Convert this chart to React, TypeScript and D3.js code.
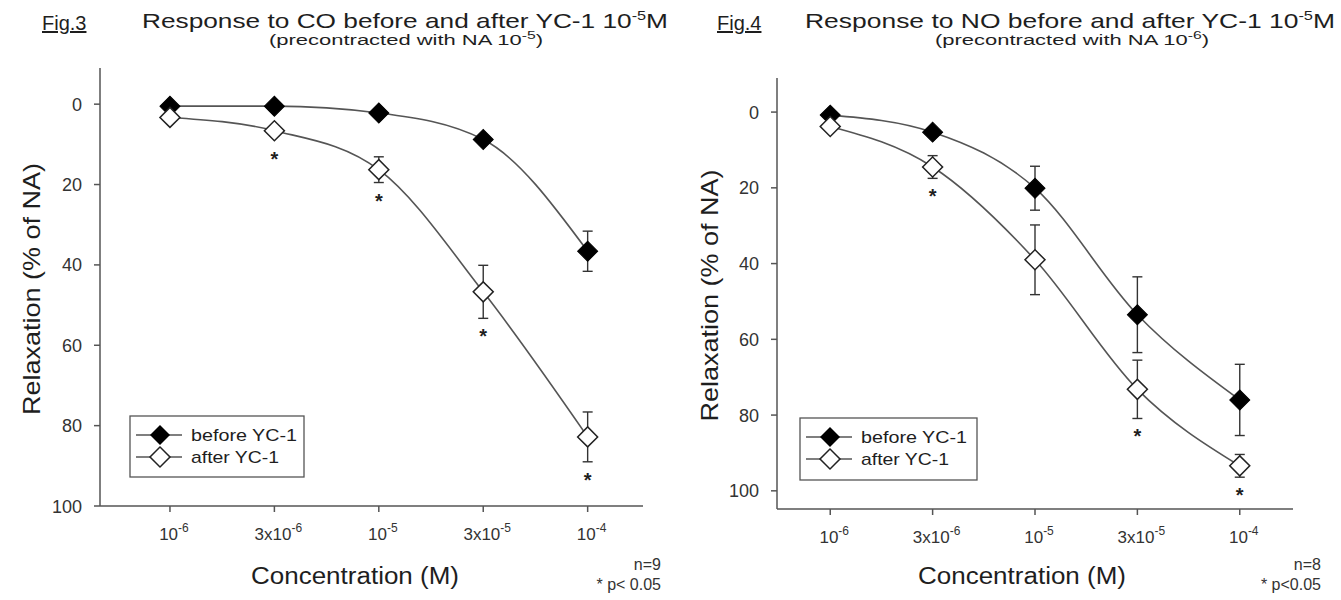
import React from 'react';
import * as d3 from 'd3';

// concentration categories (shown evenly spaced)
const concBase = ['10', '3x10', '10', '3x10', '10'];
const concExp = ['-6', '-6', '-5', '-5', '-4'];
const yTicks = [0, 20, 40, 60, 80, 100];

// Fig.3 - response to CO
const coBefore = [0.5, 0.5, 2.2, 8.8, 36.6];
const coBeforeErr = [0, 0, 0, 0, 5];
const coAfter = [3.3, 6.6, 16.3, 46.7, 82.8];
const coAfterErr = [0, 1.2, 3.2, 6.6, 6.2];
const coSig = [false, true, true, true, true];

// Fig.4 - response to NO
const noBefore = [0.8, 5.3, 20.1, 53.5, 76];
const noBeforeErr = [0, 0, 5.8, 10, 9.4];
const noAfter = [3.8, 14.5, 39, 73.2, 93.4];
const noAfterErr = [0, 3, 9.2, 7.7, 3];
const noSig = [false, true, false, true, true];

const FONT = '"Liberation Sans", Arial, sans-serif';
const INK = '#1e1e1e';
const LINE = '#555';

const diamond = d3.symbol(d3.symbolSquare, 200)();

type PanelProps = {
  fig: string;
  agent: string;
  naExp: string;
  xRange: [number, number];
  xDomain: [number, number];
  yRange: [number, number];
  yDomain: [number, number];
  before: number[];
  beforeErr: number[];
  after: number[];
  afterErr: number[];
  sig: boolean[];
  figX: number;
  titleX: number;
  titleLen: number;
  subX: number;
  legend: { x: number; y: number; w: number; h: number };
  n: string;
  pText: string;
  noteX: number;
  xTitleX: number;
  yTitleX: number;
};

function Panel(p: PanelProps) {
  const x = d3.scaleLinear().domain(p.xDomain).range(p.xRange);
  const y = d3.scaleLinear().domain(p.yDomain).range(p.yRange);
  const idx = d3.range(concBase.length);
  const line = d3
    .line<number>()
    .x((i) => x(i))
    .curve(d3.curveMonotoneX);
  const bottom = p.yRange[1];
  const left = p.xRange[0];

  const errBars = (vals: number[], errs: number[], key: string) =>
    idx
      .filter((i) => errs[i] > 0)
      .map((i) => {
        const cx = x(i);
        const t = y(vals[i] - errs[i]);
        const b = y(vals[i] + errs[i]);
        return (
          <g key={key + i} stroke="#333" strokeWidth={1.4}>
            <line x1={cx} x2={cx} y1={t} y2={b} />
            <line x1={cx - 5} x2={cx + 5} y1={t} y2={t} />
            <line x1={cx - 5} x2={cx + 5} y1={b} y2={b} />
          </g>
        );
      });

  const lg = p.legend;

  return (
    <g fontFamily={FONT} fill={INK}>
      {/* titles */}
      <text x={p.figX} y={30} fontSize={20} textDecoration="underline">
        {p.fig}
      </text>
      <text x={p.titleX} y={28} fontSize={21} textLength={p.titleLen} lengthAdjust="spacingAndGlyphs">
        {`Response to ${p.agent} before and after YC-1 10`}
        <tspan dy={-8} fontSize={13}>-5</tspan>
        <tspan dy={8}>M</tspan>
      </text>
      <text x={p.subX} y={45} fontSize={14} textLength={274} lengthAdjust="spacingAndGlyphs">
        (precontracted with NA 10
        <tspan dy={-6} fontSize={10}>{p.naExp}</tspan>
        <tspan dy={6}>)</tspan>
      </text>

      {/* axes */}
      <g stroke={LINE} strokeWidth={1.5} fill="none">
        <line x1={left} x2={left} y1={p.yRange[0]} y2={bottom} />
        <line x1={left} x2={p.xRange[1]} y1={bottom} y2={bottom} />
        {yTicks.map((t) => (
          <line key={'yt' + t} x1={left - 6} x2={left} y1={y(t)} y2={y(t)} />
        ))}
        {idx.map((i) => (
          <line key={'xt' + i} x1={x(i)} x2={x(i)} y1={bottom} y2={bottom + 6} />
        ))}
      </g>
      {yTicks.map((t) => (
        <text key={'yl' + t} x={left - 18} y={y(t) + 6.5} fontSize={18} textAnchor="end" fill="#333">
          {t}
        </text>
      ))}
      {idx.map((i) => (
        <text key={'xl' + i} x={x(i) + 4} y={bottom + 34} fontSize={17} textAnchor="middle" fill="#333">
          {concBase[i]}
          <tspan dy={-8} fontSize={12}>{concExp[i]}</tspan>
        </text>
      ))}
      <text x={p.xTitleX} y={584} fontSize={23} textAnchor="middle" textLength={208} lengthAdjust="spacingAndGlyphs">
        Concentration (M)
      </text>
      <text
        transform={`translate(${p.yTitleX},${(p.yRange[0] + bottom) / 2 + 2}) rotate(-90)`}
        fontSize={24}
        textAnchor="middle"
        textLength={252}
        lengthAdjust="spacingAndGlyphs"
      >
        Relaxation (% of NA)
      </text>
      <text x={p.noteX} y={570} fontSize={16} textAnchor="end" fill="#333">
        {p.n}
      </text>
      <text x={p.noteX} y={590} fontSize={16} textAnchor="end" fill="#333">
        {p.pText}
      </text>

      {/* curves */}
      <path d={line.y((i) => y(p.before[i]))(idx) ?? ''} fill="none" stroke={LINE} strokeWidth={1.6} />
      <path d={line.y((i) => y(p.after[i]))(idx) ?? ''} fill="none" stroke={LINE} strokeWidth={1.6} />

      {errBars(p.before, p.beforeErr, 'be')}
      {errBars(p.after, p.afterErr, 'ae')}

      {idx.map((i) => (
        <path key={'bm' + i} d={diamond} transform={`translate(${x(i)},${y(p.before[i])}) rotate(45)`} fill="#000" stroke="#000" strokeWidth={1} />
      ))}
      {idx.map((i) => (
        <path key={'am' + i} d={diamond} transform={`translate(${x(i)},${y(p.after[i])}) rotate(45)`} fill="#fff" stroke="#222" strokeWidth={1.5} />
      ))}

      {/* significance marks */}
      {idx
        .filter((i) => p.sig[i])
        .map((i) => {
          const low = Math.max(y(p.after[i]) + 10, y(p.after[i] + p.afterErr[i]));
          return (
            <text key={'s' + i} x={x(i)} y={low + 25} fontSize={20} fontWeight="bold" textAnchor="middle">
              *
            </text>
          );
        })}

      {/* legend */}
      <rect x={lg.x} y={lg.y} width={lg.w} height={lg.h} fill="#fff" stroke={LINE} strokeWidth={1.3} />
      <line x1={lg.x + 6} x2={lg.x + 52} y1={lg.y + 19} y2={lg.y + 19} stroke={LINE} strokeWidth={1.5} />
      <path d={diamond} transform={`translate(${lg.x + 30},${lg.y + 19}) rotate(45)`} fill="#000" />
      <text x={lg.x + 61} y={lg.y + 25} fontSize={17} textLength={106} lengthAdjust="spacingAndGlyphs">
        before YC-1
      </text>
      <line x1={lg.x + 6} x2={lg.x + 52} y1={lg.y + 41} y2={lg.y + 41} stroke={LINE} strokeWidth={1.5} />
      <path d={diamond} transform={`translate(${lg.x + 30},${lg.y + 41}) rotate(45)`} fill="#fff" stroke="#222" strokeWidth={1.5} />
      <text x={lg.x + 61} y={lg.y + 47} fontSize={17} textLength={88} lengthAdjust="spacingAndGlyphs">
        after YC-1
      </text>
    </g>
  );
}

export default function App() {
  return (
    <svg width={1341} height={600} style={{ display: 'block', position: 'absolute', left: 0, top: 0, background: '#fff' }}>
      <rect width={1341} height={600} fill="#fff" />
      <Panel
        fig="Fig.3"
        agent="CO"
        naExp="-5"
        xRange={[100, 643]}
        xDomain={[-0.67, 4.53]}
        yRange={[68, 506]}
        yDomain={[-9, 100]}
        before={coBefore}
        beforeErr={coBeforeErr}
        after={coAfter}
        afterErr={coAfterErr}
        sig={coSig}
        figX={42}
        titleX={142}
        titleLen={526}
        subX={269}
        legend={{ x: 130, y: 416, w: 174, h: 61 }}
        n="n=9"
        pText="* p< 0.05"
        noteX={661}
        xTitleX={355}
        yTitleX={40}
      />
      <Panel
        fig="Fig.4"
        agent="NO"
        naExp="-6"
        xRange={[777, 1293]}
        xDomain={[-0.52, 4.52]}
        yRange={[78, 509]}
        yDomain={[-9, 104.8]}
        before={noBefore}
        beforeErr={noBeforeErr}
        after={noAfter}
        afterErr={noAfterErr}
        sig={noSig}
        figX={717}
        titleX={805}
        titleLen={530}
        subX={935}
        legend={{ x: 800, y: 418, w: 177, h: 62 }}
        n="n=8"
        pText="* p<0.05"
        noteX={1321}
        xTitleX={1022}
        yTitleX={718}
      />
    </svg>
  );
}
